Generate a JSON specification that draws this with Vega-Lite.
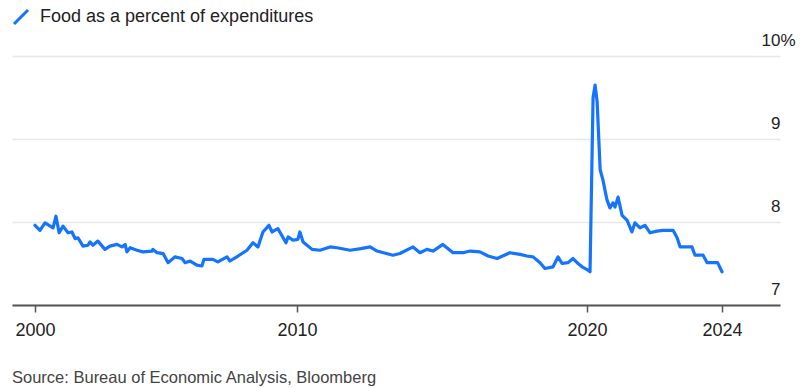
{
  "$schema": "https://vega.github.io/schema/vega-lite/v6.json",
  "width": 768,
  "height": 249,
  "autosize": {"type": "none"},
  "padding": {"left": 12, "top": 56, "right": 20, "bottom": 83},
  "background": "white",
  "config": {
    "view": {"stroke": null},
    "font": "Liberation Sans, Arial, sans-serif"
  },
  "title": {
    "text": "Source: Bureau of Economic Analysis, Bloomberg",
    "orient": "bottom",
    "anchor": "start",
    "frame": "group",
    "fontSize": 16.5,
    "fontWeight": "normal",
    "color": "#444444",
    "offset": 31
  },
  "data": {
    "values": [
      {"year": 2000.0, "value": 7.96},
      {"year": 2000.19, "value": 7.90},
      {"year": 2000.38, "value": 7.99},
      {"year": 2000.69, "value": 7.93},
      {"year": 2000.80, "value": 8.07},
      {"year": 2000.92, "value": 7.87},
      {"year": 2001.07, "value": 7.95},
      {"year": 2001.26, "value": 7.87},
      {"year": 2001.41, "value": 7.88},
      {"year": 2001.53, "value": 7.80},
      {"year": 2001.64, "value": 7.81},
      {"year": 2001.83, "value": 7.71},
      {"year": 2002.02, "value": 7.72},
      {"year": 2002.10, "value": 7.76},
      {"year": 2002.21, "value": 7.72},
      {"year": 2002.40, "value": 7.77},
      {"year": 2002.67, "value": 7.67},
      {"year": 2002.86, "value": 7.71},
      {"year": 2003.13, "value": 7.73},
      {"year": 2003.32, "value": 7.70},
      {"year": 2003.44, "value": 7.73},
      {"year": 2003.51, "value": 7.64},
      {"year": 2003.63, "value": 7.69},
      {"year": 2003.89, "value": 7.66},
      {"year": 2004.12, "value": 7.64},
      {"year": 2004.47, "value": 7.65},
      {"year": 2004.50, "value": 7.67},
      {"year": 2004.66, "value": 7.63},
      {"year": 2004.89, "value": 7.62},
      {"year": 2005.08, "value": 7.51},
      {"year": 2005.34, "value": 7.58},
      {"year": 2005.61, "value": 7.56},
      {"year": 2005.73, "value": 7.51},
      {"year": 2005.92, "value": 7.53},
      {"year": 2006.18, "value": 7.48},
      {"year": 2006.37, "value": 7.47},
      {"year": 2006.45, "value": 7.55},
      {"year": 2006.79, "value": 7.55},
      {"year": 2006.98, "value": 7.52},
      {"year": 2007.33, "value": 7.58},
      {"year": 2007.44, "value": 7.53},
      {"year": 2007.75, "value": 7.59},
      {"year": 2008.09, "value": 7.66},
      {"year": 2008.32, "value": 7.75},
      {"year": 2008.51, "value": 7.70},
      {"year": 2008.70, "value": 7.88},
      {"year": 2008.93, "value": 7.96},
      {"year": 2009.05, "value": 7.88},
      {"year": 2009.27, "value": 7.92},
      {"year": 2009.58, "value": 7.75},
      {"year": 2009.66, "value": 7.82},
      {"year": 2009.85, "value": 7.78},
      {"year": 2010.03, "value": 7.79},
      {"year": 2010.10, "value": 7.88},
      {"year": 2010.21, "value": 7.76},
      {"year": 2010.52, "value": 7.67},
      {"year": 2010.79, "value": 7.66},
      {"year": 2011.14, "value": 7.70},
      {"year": 2011.38, "value": 7.69},
      {"year": 2011.83, "value": 7.66},
      {"year": 2012.20, "value": 7.68},
      {"year": 2012.52, "value": 7.70},
      {"year": 2012.76, "value": 7.65},
      {"year": 2013.31, "value": 7.60},
      {"year": 2013.55, "value": 7.62},
      {"year": 2014.00, "value": 7.70},
      {"year": 2014.24, "value": 7.63},
      {"year": 2014.48, "value": 7.67},
      {"year": 2014.69, "value": 7.65},
      {"year": 2015.03, "value": 7.73},
      {"year": 2015.38, "value": 7.63},
      {"year": 2015.72, "value": 7.63},
      {"year": 2015.97, "value": 7.65},
      {"year": 2016.31, "value": 7.64},
      {"year": 2016.59, "value": 7.59},
      {"year": 2016.90, "value": 7.56},
      {"year": 2017.34, "value": 7.63},
      {"year": 2017.69, "value": 7.61},
      {"year": 2017.93, "value": 7.59},
      {"year": 2018.14, "value": 7.58},
      {"year": 2018.38, "value": 7.51},
      {"year": 2018.55, "value": 7.44},
      {"year": 2018.83, "value": 7.46},
      {"year": 2019.00, "value": 7.58},
      {"year": 2019.14, "value": 7.50},
      {"year": 2019.34, "value": 7.51},
      {"year": 2019.52, "value": 7.56},
      {"year": 2019.66, "value": 7.51},
      {"year": 2019.83, "value": 7.46},
      {"year": 2020.03, "value": 7.42},
      {"year": 2020.09, "value": 7.40},
      {"year": 2020.18, "value": 9.50},
      {"year": 2020.24, "value": 9.65},
      {"year": 2020.30, "value": 9.45},
      {"year": 2020.39, "value": 8.63},
      {"year": 2020.47, "value": 8.51},
      {"year": 2020.59, "value": 8.27},
      {"year": 2020.68, "value": 8.17},
      {"year": 2020.77, "value": 8.23},
      {"year": 2020.83, "value": 8.18},
      {"year": 2020.92, "value": 8.30},
      {"year": 2021.04, "value": 8.08},
      {"year": 2021.19, "value": 8.02},
      {"year": 2021.33, "value": 7.88},
      {"year": 2021.42, "value": 7.99},
      {"year": 2021.57, "value": 7.93},
      {"year": 2021.72, "value": 7.96},
      {"year": 2021.87, "value": 7.87},
      {"year": 2022.07, "value": 7.89},
      {"year": 2022.25, "value": 7.90},
      {"year": 2022.55, "value": 7.90},
      {"year": 2022.67, "value": 7.81},
      {"year": 2022.76, "value": 7.70},
      {"year": 2023.11, "value": 7.70},
      {"year": 2023.20, "value": 7.60},
      {"year": 2023.44, "value": 7.60},
      {"year": 2023.56, "value": 7.51},
      {"year": 2023.87, "value": 7.51},
      {"year": 2024.00, "value": 7.40}
    ]
  },
  "transform": [{"calculate": "'Food as a percent of expenditures'", "as": "series"}],
  "mark": {"type": "line", "strokeWidth": 3.2, "strokeJoin": "round", "strokeCap": "round"},
  "encoding": {
    "x": {
      "field": "year",
      "type": "quantitative",
      "scale": {
        "domain": [1999.12, 2000, 2010, 2020, 2024, 2025.72],
        "range": [0, 23, 285, 575, 710, 768],
        "zero": false,
        "nice": false
      },
      "axis": {
        "title": null,
        "values": [2000, 2010, 2020, 2024],
        "format": "d",
        "grid": false,
        "domainColor": "#555555",
        "domainWidth": 2,
        "tickColor": "#555555",
        "tickWidth": 1.5,
        "tickSize": 7,
        "labelFontSize": 18,
        "labelColor": "#222222",
        "labelPadding": 9,
        "labelFlush": false
      }
    },
    "y": {
      "field": "value",
      "type": "quantitative",
      "scale": {"domain": [7, 10], "zero": false, "nice": false},
      "axis": {
        "orient": "right",
        "title": null,
        "values": [7, 8, 9, 10],
        "domain": false,
        "ticks": false,
        "grid": true,
        "gridColor": "#e8e8e8",
        "gridWidth": 1.5,
        "labelFontSize": 17,
        "labelColor": "#222222",
        "labelAlign": "right",
        "labelBaseline": "alphabetic",
        "labelPadding": {"condition": {"test": "datum.value == 10", "value": 15}, "value": 0},
        "labelOffset": -11,
        "labelExpr": "datum.value == 10 ? '10%' : datum.label"
      }
    },
    "color": {
      "field": "series",
      "type": "nominal",
      "scale": {"range": ["#1474ff"]},
      "legend": {
        "title": null,
        "orient": "none",
        "legendX": 0,
        "legendY": -48,
        "symbolType": "M-1,1L1,-1",
        "symbolSize": 196,
        "symbolStrokeWidth": 3,
        "labelFontSize": 18,
        "labelColor": "#222222",
        "labelOffset": 10,
        "labelLimit": 0,
        "padding": 0
      }
    }
  }
}
